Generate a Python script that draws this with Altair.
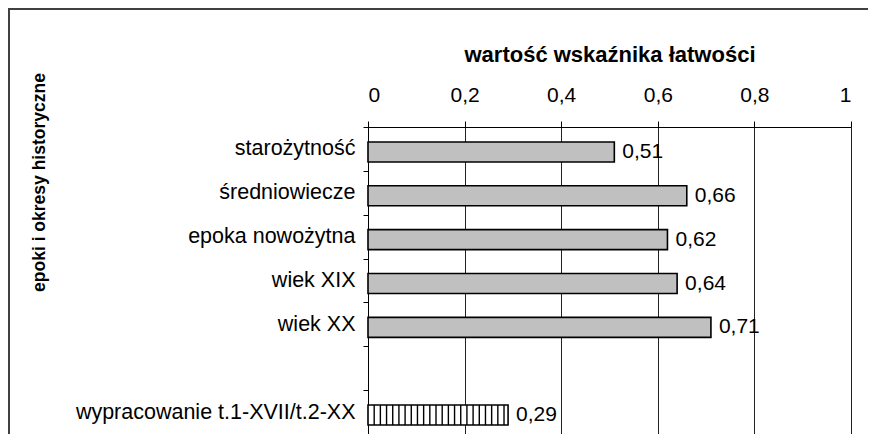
import altair as alt
import pandas as pd

# ---- data ----
categories = ["starożytność", "średniowiecze", "epoka nowożytna", "wiek XIX",
              "wiek XX", " ", "wypracowanie t.1-XVII/t.2-XX"]
values = [0.51, 0.66, 0.62, 0.64, 0.71, None, 0.29]
kinds = ["epoka", "epoka", "epoka", "epoka", "epoka", None, "wypracowanie"]
x_ticks = [0, 0.2, 0.4, 0.6, 0.8, 1]
x_title = "wartość wskaźnika łatwości"
y_title = "epoki i okresy historyczne"

rows = []
for c, v, k in zip(categories, values, kinds):
    if v is None:
        continue
    rows.append({"cat": c, "val": v, "kind": k,
                 "label": f"{v:.2f}".rstrip("0").replace(".", ",")})
df = pd.DataFrame(rows)

# vertical hatch stripes for the "wypracowanie" bar (derived from its value)
stripe_step = 0.0128
stripe_rows = []
for r in rows:
    if r["kind"] == "wypracowanie":
        k = 1
        while k * stripe_step < r["val"] - 0.004:
            stripe_rows.append({"cat": r["cat"], "sx": k * stripe_step})
            k += 1
stripes_df = pd.DataFrame(stripe_rows)

FONT = "Liberation Sans"
TOP = 119
W, H = 483, 307
RIGHT = 18

x_scale = alt.Scale(domain=[0, 1], nice=False, zero=True)
y_scale = alt.Scale(domain=categories, paddingInner=0, paddingOuter=0)

x_axis = alt.Axis(
    orient="top", values=x_ticks, format="~g",
    labelExpr="replace(datum.label, '.', ',')",
    labelFont=FONT, labelFontSize=21, labelColor="black",
    labelBaseline="alphabetic", labelPadding=20,
    tickSize=6, tickColor="black", domainColor="black",
    grid=True, gridColor="#222222", gridWidth=1,
    title=x_title, titleFont=FONT, titleFontSize=22, titleFontWeight="bold",
    titleColor="black", titleBaseline="alphabetic", titleY=-66,
)
y_axis = alt.Axis(
    orient="left", tickBand="extent",
    labelFont=FONT, labelFontSize=21.5, labelColor="black", labelPadding=8,
    labelLimit=0,
    tickSize=5, tickColor="black", domainColor="black", grid=False,
    title=y_title, titleFont=FONT, titleFontSize=17.5, titleFontWeight="bold",
    titleColor="black", titleAngle=-90, titleAlign="center",
    titleBaseline="middle", titleX=-329, titleY=55,
)

base = alt.Chart(df).encode(
    y=alt.Y("cat:N", scale=y_scale, axis=y_axis, sort=categories),
    x=alt.X("val:Q", scale=x_scale, axis=x_axis),
)

bars = base.mark_bar(size=20, yOffset=3, stroke="black", strokeWidth=1.6).encode(
    fill=alt.Fill("kind:N", legend=None,
                  scale=alt.Scale(domain=["epoka", "wypracowanie"],
                                  range=["#c0c0c0", "#ffffff"]))
)

stripes = alt.Chart(stripes_df).mark_tick(
    orient="vertical", size=20, thickness=1.4, yOffset=3, color="black", opacity=1
).encode(
    x=alt.X("sx:Q", scale=x_scale),
    y=alt.Y("cat:N", scale=y_scale, sort=categories),
)

labels = base.mark_text(
    align="left", baseline="middle", dx=8, yOffset=3,
    font=FONT, fontSize=21, color="black"
).encode(text="label:N")

frame = pd.DataFrame({"o": [0]})
border_top = alt.Chart(frame).mark_rule(color="#404040", strokeWidth=2).encode(
    x=alt.value(-359), x2=alt.value(W + RIGHT - 1), y=alt.value(1 - TOP),
)
border_left = alt.Chart(frame).mark_rule(color="#404040", strokeWidth=2).encode(
    x=alt.value(-359), y=alt.value(-TOP), y2=alt.value(H),
)

chart = alt.layer(border_top, border_left, bars, stripes, labels).properties(
    width=W, height=H,
    autosize=alt.AutoSizeParams(type="none"),
    padding={"left": 360, "top": TOP, "right": RIGHT, "bottom": 0},
).configure_view(stroke=None).configure(background="white")

chart.save("out.html", embed_options={"renderer": "svg", "actions": False})
